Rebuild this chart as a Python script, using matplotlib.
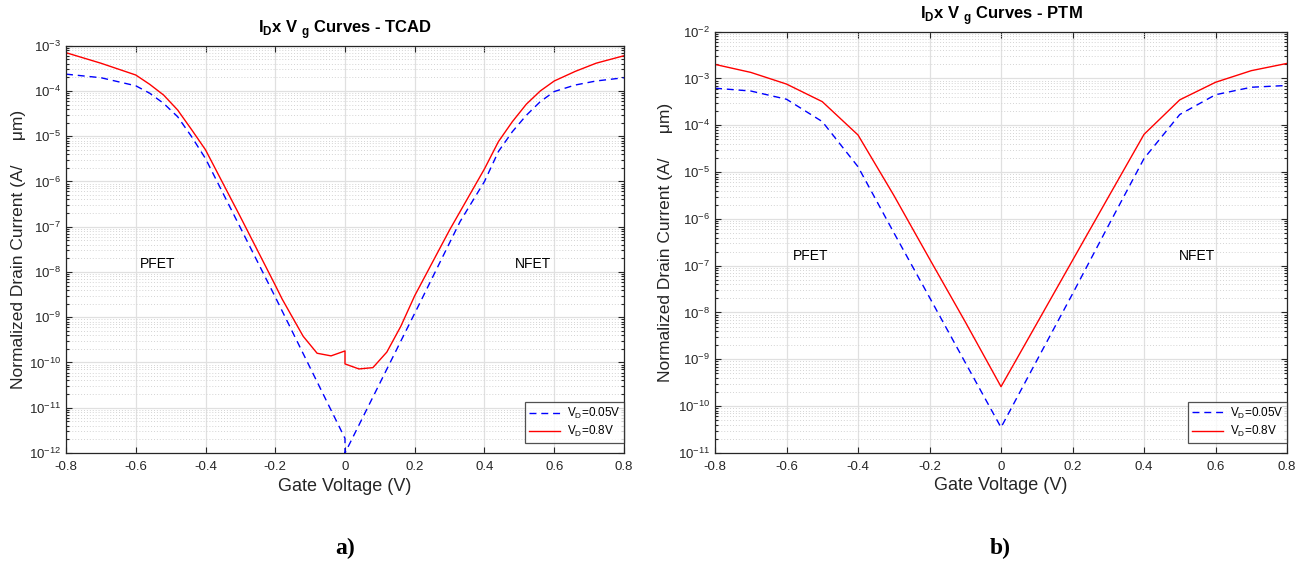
import numpy as np
import matplotlib
matplotlib.use("Agg")
import matplotlib.pyplot as plt
from matplotlib.ticker import LogLocator, FixedLocator, NullFormatter, NullLocator

plt.rcParams['font.family'] = ['Liberation Sans', 'DejaVu Sans']
plt.rcParams['mathtext.fontset'] = 'custom'
plt.rcParams['mathtext.rm'] = 'Liberation Sans'
plt.rcParams['mathtext.bf'] = 'Liberation Sans:bold'
plt.rcParams['axes.unicode_minus'] = False

# TCAD curves
tcad_v_red = [-0.8, -0.7, -0.6, -0.56, -0.52, -0.48, -0.44, -0.40, -0.30, -0.20, -0.18,
              -0.12, -0.08, -0.04, 0.0, 0.0, 0.04, 0.08, 0.12, 0.16, 0.20, 0.30, 0.40,
              0.44, 0.48, 0.52, 0.56, 0.60, 0.66, 0.72, 0.80]
tcad_i_red = [7.0e-4, 4.1e-4, 2.25e-4, 1.4e-4, 8.1e-5, 3.8e-5, 1.4e-5, 5.0e-6, 1.65e-7, 5.1e-9, 2.5e-9,
              3.8e-10, 1.6e-10, 1.4e-10, 1.8e-10, 9.3e-11, 7.2e-11, 7.7e-11, 1.7e-10, 6.3e-10, 3.0e-9, 8.5e-8, 1.9e-6,
              7.6e-6, 2.1e-5, 5.1e-5, 1.0e-4, 1.66e-4, 2.7e-4, 4.1e-4, 6.0e-4]
tcad_v_blue = [-0.8, -0.7, -0.6, -0.56, -0.52, -0.48, -0.44, -0.40, -0.30, -0.20, 0.0, 0.0,
               0.22, 0.33, 0.40, 0.44, 0.48, 0.52, 0.56, 0.60, 0.66, 0.72, 0.80]
tcad_i_blue = [2.35e-4, 1.96e-4, 1.3e-4, 8.9e-5, 5.3e-5, 2.7e-5, 9.8e-6, 3.2e-6, 9.5e-8, 2.8e-9, 2.1e-12, 1.0e-12,
               2.5e-9, 1.3e-7, 1.0e-6, 4.6e-6, 1.26e-5, 2.9e-5, 5.8e-5, 9.7e-5, 1.35e-4, 1.66e-4, 1.96e-4]

# PTM curves
ptm_v = [-0.8, -0.7, -0.6, -0.5, -0.4, -0.3, -0.2, -0.1, 0.0, 0.1, 0.2, 0.3, 0.4, 0.5, 0.6, 0.7, 0.8]
ptm_i_red = [2.0e-3, 1.35e-3, 7.6e-4, 3.2e-4, 6.2e-5, 3.2e-6, 1.4e-7, 6.3e-9, 2.6e-10,
             5.8e-9, 1.3e-7, 2.9e-6, 6.4e-5, 3.5e-4, 8.3e-4, 1.47e-3, 2.1e-3]
ptm_i_blue = [6.2e-4, 5.4e-4, 3.6e-4, 1.2e-4, 1.3e-5, 5.1e-7, 2.1e-8, 8.5e-10, 3.5e-11,
              9.4e-10, 2.5e-8, 7.1e-7, 1.95e-5, 1.7e-4, 4.5e-4, 6.5e-4, 7.1e-4]

x_ticks = [-0.8, -0.6, -0.4, -0.2, 0, 0.2, 0.4, 0.6, 0.8]
legend_labels = [r"V$_\mathrm{D}$=0.05V", r"V$_\mathrm{D}$=0.8V"]

axc = '#262626'

fig = plt.figure(figsize=(12.97, 5.64), dpi=100)
ax1 = fig.add_axes([0.0509, 0.1968, 0.4302, 0.7222])
ax2 = fig.add_axes([0.5513, 0.1970, 0.4410, 0.7468])


def style_axes(ax, ylim, title, pfet_xy, nfet_xy, label_x):
    ax.set_yscale('log')
    ax.set_xlim(-0.8, 0.8)
    ax.set_ylim(*ylim)
    ax.xaxis.set_major_locator(FixedLocator(x_ticks))
    ax.set_xticklabels([f"{v:g}" for v in x_ticks])
    ax.xaxis.set_minor_locator(NullLocator())
    ax.yaxis.set_major_locator(LogLocator(base=10, numticks=20))
    ax.yaxis.set_minor_locator(LogLocator(base=10, subs=np.arange(2, 10), numticks=20))
    ax.yaxis.set_minor_formatter(NullFormatter())
    ax.tick_params(which='both', direction='in', top=True, right=True, colors=axc,
                   labelsize=9.5, width=0.8)
    ax.tick_params(which='major', length=4)
    ax.tick_params(which='minor', length=2.5)
    ax.tick_params(axis='x', pad=6)
    for s in ax.spines.values():
        s.set_color(axc)
        s.set_linewidth(0.9)
    ax.grid(True, which='major', color='#e0e0e0', linewidth=0.9, linestyle='-')
    ax.grid(True, which='minor', axis='y', color='#d4d4d4', linewidth=0.7, linestyle=(0, (1, 2)))
    ax.set_axisbelow(True)
    ax.set_title(title, fontsize=12, fontweight='bold', color='black', pad=9)
    ax.set_xlabel("Gate Voltage (V)", fontsize=13, color=axc, labelpad=3)
    ax.set_ylabel("Normalized Drain Current (A/     \u03bcm)", fontsize=12.5, color=axc)
    ax.yaxis.set_label_coords(label_x, 0.5)
    ax.text(pfet_xy[0], pfet_xy[1], "PFET", fontsize=10, ha='center', va='center', color='black')
    ax.text(nfet_xy[0], nfet_xy[1], "NFET", fontsize=10, ha='center', va='center', color='black')


ax1.plot(tcad_v_blue, tcad_i_blue, color='blue', linestyle=(0, (5, 3.5)), linewidth=1.0, label=legend_labels[0])
ax1.plot(tcad_v_red, tcad_i_red, color='red', linestyle='-', linewidth=1.0, label=legend_labels[1])
style_axes(ax1, (1e-12, 1e-3), r"I$_\mathbf{D}$x V $_\mathbf{g}$ Curves - TCAD",
           (-0.536, 1.5e-8), (0.54, 1.5e-8), -0.072)

ax2.plot(ptm_v, ptm_i_blue, color='blue', linestyle=(0, (5, 3.5)), linewidth=1.0, label=legend_labels[0])
ax2.plot(ptm_v, ptm_i_red, color='red', linestyle='-', linewidth=1.0, label=legend_labels[1])
style_axes(ax2, (1e-11, 1e-2), r"I$_\mathbf{D}$x V $_\mathbf{g}$ Curves - PTM",
           (-0.534, 1.6e-7), (0.548, 1.6e-7), -0.073)

for ax, off in [(ax1, 10 / 407), (ax2, 10 / 421)]:
    leg = ax.legend(loc='lower right', bbox_to_anchor=(1.0, off), fontsize=8.5, frameon=True,
                    fancybox=False, borderaxespad=0, handlelength=2.6, borderpad=0.3,
                    labelspacing=0.3, handletextpad=0.6)
    leg.get_frame().set_edgecolor(axc)
    leg.get_frame().set_linewidth(0.9)

fig.text(345 / 1297, 1 - 548 / 564, "a)", fontsize=17, fontweight='bold',
         family='Liberation Serif', ha='center', va='center')
fig.text(1000 / 1297, 1 - 548 / 564, "b)", fontsize=17, fontweight='bold',
         family='Liberation Serif', ha='center', va='center')

fig.savefig("out.png", dpi=100)
